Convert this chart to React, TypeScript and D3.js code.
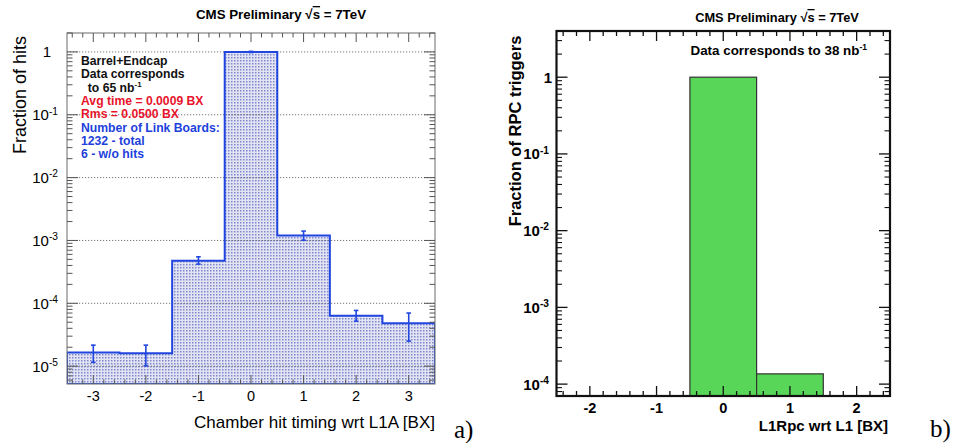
import React from 'react';
import * as d3 from 'd3';

// ---- Panel a) data ----
const binsA = [-3, -2, -1, 0, 1, 2, 3];
const valuesA = [1.65e-5, 1.6e-5, 4.75e-4, 1.0, 1.2e-3, 6.35e-5, 4.8e-5];
const errLowA = [1.15e-5, 1.01e-5, 4.2e-4, 0.98, 1.01e-3, 5.2e-5, 2.5e-5];
const errHighA = [2.16e-5, 2.16e-5, 5.5e-4, 1.02, 1.41e-3, 7.7e-5, 7.0e-5];
const xTicksA = [-3, -2, -1, 0, 1, 2, 3];
const yDecadesA = [-5, -4, -3, -2, -1, 0];
const notesA = [
  { text: 'Barrel+Endcap', color: '#111' },
  { text: 'Data corresponds', color: '#111' },
  { text: '  to 65 nb', sup: '-1', color: '#111' },
  { text: 'Avg time = 0.0009 BX', color: '#e8132b' },
  { text: 'Rms = 0.0500 BX', color: '#e8132b' },
  { text: 'Number of Link Boards:', color: '#1d3fdc' },
  { text: '1232 - total', color: '#1d3fdc' },
  { text: '6 - w/o hits', color: '#1d3fdc' },
];

// ---- Panel b) data ----
const binsB = [0, 1];
const valuesB = [1.0, 1.36e-4];
const xTicksB = [-2, -1, 0, 1, 2];
const yDecadesB = [-4, -3, -2, -1, 0];

const FONT = '"Liberation Sans", Arial, Helvetica, sans-serif';
const SERIF = '"Liberation Serif", "DejaVu Serif", serif';

function xMinor(domain: number[]) {
  const out: number[] = [];
  for (let i = Math.ceil(domain[0] * 5); i <= Math.floor(domain[1] * 5); i++) {
    if (i % 5 !== 0) out.push(i / 5);
  }
  return out;
}
function yMinor(domain: number[]) {
  const out: number[] = [];
  const lo = Math.floor(Math.log10(domain[0]));
  const hi = Math.ceil(Math.log10(domain[1]));
  for (let n = lo; n <= hi; n++) {
    for (let k = 2; k <= 9; k++) {
      const v = k * Math.pow(10, n);
      if (v >= domain[0] && v <= domain[1]) out.push(v);
    }
  }
  return out;
}

function DecadeLabel({ n, x, y, size, bold, xOne }: any) {
  if (n === 0) {
    return (
      <text x={xOne} y={y} dy="0.36em" textAnchor="end" fontSize={size} fontWeight={bold ? 'bold' : 'normal'} fontFamily={FONT}>1</text>
    );
  }
  return (
    <text x={x} y={y} dy="0.36em" textAnchor="end" fontSize={size} fontWeight={bold ? 'bold' : 'normal'} fontFamily={FONT}>
      10<tspan fontSize={size * 0.68} dy="-0.55em">{String(n)}</tspan>
    </text>
  );
}

function PanelA() {
  const xd = [-3.5, 3.5];
  const yd = [5.2e-6, 2];
  const x = d3.scaleLinear().domain(xd).range([67, 435]);
  const y = d3.scaleLog().domain(yd).range([384, 33]);
  const [x0, x1] = x.range();
  const [yb, yt] = y.range();

  const pts: [number, number][] = [[x(xd[0]), yb]];
  binsA.forEach((b, i) => {
    pts.push([x(b - 0.5), y(valuesA[i])]);
    pts.push([x(b + 0.5), y(valuesA[i])]);
  });
  pts.push([x(xd[1]), yb]);
  const path = d3.line()(pts) + 'Z';

  const tc = '#555';
  return (
    <g>
      <defs>
        <pattern id="dotsA" width="3" height="3" patternUnits="userSpaceOnUse">
          <rect width="3" height="3" fill="#e2e4f4" />
          <rect width="1.5" height="1.5" fill="#8088cc" />
        </pattern>
        <clipPath id="clipA"><rect x={x0} y={yt} width={x1 - x0} height={yb - yt} /></clipPath>
      </defs>
      <text x={281} y={19} textAnchor="middle" fontSize={13.3} fontWeight="bold" fontFamily={FONT}>
        CMS Preliminary √<tspan style={{ textDecoration: 'overline' }}>s</tspan> = 7TeV
      </text>
      <path d={path} fill="url(#dotsA)" clipPath="url(#clipA)" />
      {yDecadesA.map((n) => (
        <line key={n} x1={x0} x2={x1} y1={y(Math.pow(10, n))} y2={y(Math.pow(10, n))} stroke="#666" strokeWidth={0.9} strokeDasharray="1.2,1.8" />
      ))}
      <path d={path} fill="none" stroke="#2146e0" strokeWidth={2} clipPath="url(#clipA)" />
      {binsA.map((b, i) => (
        <g key={b} stroke="#2146e0" strokeWidth={1.6}>
          <line x1={x(b)} x2={x(b)} y1={y(errLowA[i])} y2={y(errHighA[i])} />
          <line x1={x(b) - 2.3} x2={x(b) + 2.3} y1={y(errLowA[i])} y2={y(errLowA[i])} />
          <line x1={x(b) - 2.3} x2={x(b) + 2.3} y1={y(errHighA[i])} y2={y(errHighA[i])} />
        </g>
      ))}
      <rect x={x0} y={yt} width={x1 - x0} height={yb - yt} fill="none" stroke="#777" strokeWidth={1.1} />
      {xTicksA.map((t) => (
        <g key={t} stroke={tc} strokeWidth={1}>
          <line x1={x(t)} x2={x(t)} y1={yb} y2={yb - 9} />
          <line x1={x(t)} x2={x(t)} y1={yt} y2={yt + 9} />
        </g>
      ))}
      {xMinor(xd).map((t) => (
        <g key={t} stroke={tc} strokeWidth={1}>
          <line x1={x(t)} x2={x(t)} y1={yb} y2={yb - 4.5} />
          <line x1={x(t)} x2={x(t)} y1={yt} y2={yt + 4.5} />
        </g>
      ))}
      {yDecadesA.map((n) => (
        <g key={n} stroke={tc} strokeWidth={1}>
          <line x1={x0} x2={x0 + 11} y1={y(Math.pow(10, n))} y2={y(Math.pow(10, n))} />
          <line x1={x1} x2={x1 - 11} y1={y(Math.pow(10, n))} y2={y(Math.pow(10, n))} />
        </g>
      ))}
      {yMinor(yd).map((v) => (
        <g key={v} stroke={tc} strokeWidth={1}>
          <line x1={x0} x2={x0 + 5.5} y1={y(v)} y2={y(v)} />
          <line x1={x1} x2={x1 - 5.5} y1={y(v)} y2={y(v)} />
        </g>
      ))}
      {xTicksA.map((t) => (
        <text key={t} x={x(t)} y={401} textAnchor="middle" fontSize={14.5} fontFamily={FONT}>{t < 0 ? '-' + Math.abs(t) : String(t)}</text>
      ))}
      {yDecadesA.map((n) => (
        <DecadeLabel key={n} n={n} x={58} xOne={51} y={y(Math.pow(10, n))} size={15} bold={false} />
      ))}
      <text transform={`translate(26,95) rotate(-90)`} textAnchor="middle" fontSize={18} fontFamily={FONT}>Fraction of hits</text>
      <text x={435} y={428} textAnchor="end" fontSize={17} fontFamily={FONT}>Chamber hit timing wrt L1A [BX]</text>
      <text x={454} y={438} fontSize={25} fontFamily={SERIF}>a)</text>
      {notesA.map((d, i) => (
        <text key={i} x={81} y={65 + i * 13.3} fontSize={12.2} fontWeight="bold" fontFamily={FONT} fill={d.color} style={{ whiteSpace: 'pre' }}>
          {d.text}
          {d.sup ? <tspan fontSize={8} dy="-0.6em">{d.sup}</tspan> : null}
        </text>
      ))}
    </g>
  );
}

function PanelB() {
  const xd = [-2.5, 2.5];
  const yd = [7e-5, 4];
  const x = d3.scaleLinear().domain(xd).range([556.5, 890]);
  const y = d3.scaleLog().domain(yd).range([396, 31]);
  const [x0, x1] = x.range();
  const [yb, yt] = y.range();
  const tc = '#111';
  return (
    <g>
      <text x={777} y={22} textAnchor="middle" fontSize={12.8} fontWeight="bold" fontFamily={FONT}>
        CMS Preliminary √<tspan style={{ textDecoration: 'overline' }}>s</tspan> = 7TeV
      </text>
      {binsB.map((b, i) => (
        <rect key={b} x={x(b - 0.5)} y={y(valuesB[i])} width={x(b + 0.5) - x(b - 0.5)} height={yb - y(valuesB[i])} fill="#57d657" stroke="#333" strokeWidth={1.2} />
      ))}
      <rect x={x0} y={yt} width={x1 - x0} height={yb - yt} fill="none" stroke="#111" strokeWidth={2.2} />
      {xTicksB.map((t) => (
        <g key={t} stroke={tc} strokeWidth={1.3}>
          <line x1={x(t)} x2={x(t)} y1={yb} y2={yb - 10} />
          <line x1={x(t)} x2={x(t)} y1={yt} y2={yt + 10} />
        </g>
      ))}
      {xMinor(xd).map((t) => (
        <g key={t} stroke={tc} strokeWidth={1.3}>
          <line x1={x(t)} x2={x(t)} y1={yb} y2={yb - 5} />
          <line x1={x(t)} x2={x(t)} y1={yt} y2={yt + 5} />
        </g>
      ))}
      {yDecadesB.map((n) => (
        <g key={n} stroke={tc} strokeWidth={1.3}>
          <line x1={x0} x2={x0 + 11} y1={y(Math.pow(10, n))} y2={y(Math.pow(10, n))} />
          <line x1={x1} x2={x1 - 11} y1={y(Math.pow(10, n))} y2={y(Math.pow(10, n))} />
        </g>
      ))}
      {yMinor(yd).map((v) => (
        <g key={v} stroke={tc} strokeWidth={1.1}>
          <line x1={x0} x2={x0 + 5.5} y1={y(v)} y2={y(v)} />
          <line x1={x1} x2={x1 - 5.5} y1={y(v)} y2={y(v)} />
        </g>
      ))}
      {xTicksB.map((t) => (
        <text key={t} x={x(t)} y={412.5} textAnchor="middle" fontSize={14.5} fontWeight="bold" fontFamily={FONT}>{t < 0 ? '-' + Math.abs(t) : String(t)}</text>
      ))}
      {yDecadesB.map((n) => (
        <DecadeLabel key={n} n={n} x={549} xOne={552} y={y(Math.pow(10, n))} size={15} bold={true} />
      ))}
      <text x={690.5} y={55} fontSize={13.4} fontWeight="bold" fontFamily={FONT}>
        Data corresponds to 38 nb<tspan fontSize={8.5} dy="-0.6em">-1</tspan>
      </text>
      <text transform={`translate(521,131) rotate(-90)`} textAnchor="middle" fontSize={16.5} fontWeight="bold" fontFamily={FONT}>Fraction of RPC triggers</text>
      <text x={888} y={431} textAnchor="end" fontSize={15} fontWeight="bold" fontFamily={FONT}>L1Rpc wrt L1 [BX]</text>
      <text x={930} y={437} fontSize={25} fontFamily={SERIF}>b)</text>
    </g>
  );
}

export default function App() {
  return (
    <svg width={957} height={443} style={{ position: 'absolute', left: 0, top: 0, background: '#fff' }}>
      <rect width={957} height={443} fill="#fff" />
      <PanelA />
      <PanelB />
    </svg>
  );
}
